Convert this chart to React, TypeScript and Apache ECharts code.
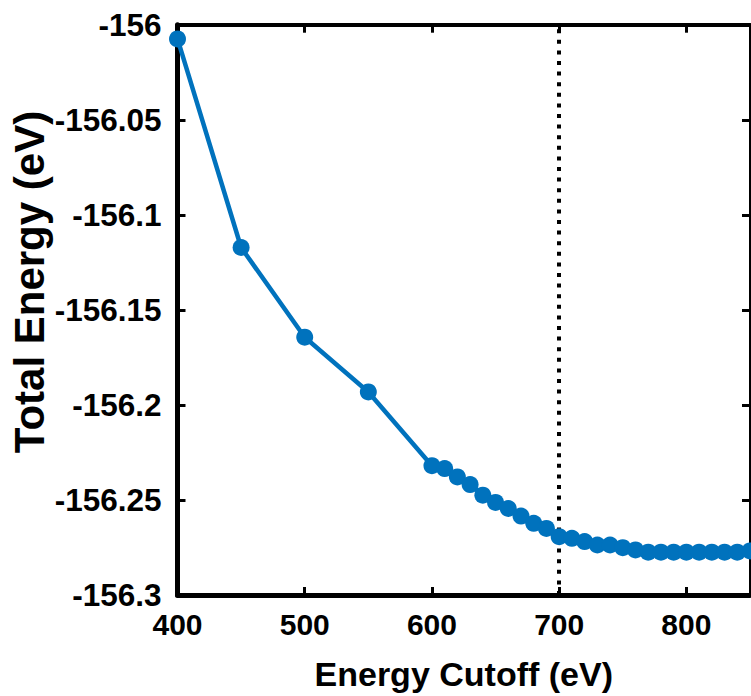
import React, { useEffect, useRef } from "react";
import * as echarts from "echarts";

const energyCutoff = [
  400, 450, 500, 550, 600, 610, 620, 630, 640, 650, 660, 670, 680, 690, 700,
  710, 720, 730, 740, 750, 760, 770, 780, 790, 800, 810, 820, 830, 840, 850,
];
const totalEnergy = [
  -156.0075, -156.1172, -156.1644, -156.1932, -156.232, -156.2335, -156.2379,
  -156.2419, -156.2475, -156.2513, -156.2545, -156.2585, -156.2623, -156.265,
  -156.2693, -156.2702, -156.2719, -156.2737, -156.2737, -156.2751, -156.2763,
  -156.2775, -156.2775, -156.2775, -156.2775, -156.2775, -156.2775, -156.2775,
  -156.2775, -156.2768,
];
const chosenCutoff = 700;
const xTitle = "Energy Cutoff (eV)";
const yTitle = "Total Energy (eV)";

const FONT = "'Liberation Sans', Arial, Helvetica, sans-serif";

export default function App() {
  const ref = useRef<HTMLDivElement>(null);
  useEffect(() => {
    document.body.style.margin = "0";
    const chart = echarts.init(ref.current!, undefined, { renderer: "svg" });
    const fmtY = (v: number) => String(Number(v.toFixed(2)));
    const axisCommon = {
      type: "value" as const,
      splitLine: { show: false },
      axisTick: { inside: true, length: 8, lineStyle: { color: "#000", width: 3 } },
    };
    chart.setOption({
      animation: false,
      backgroundColor: "#fff",
      grid: { left: 177.5, top: 24.7, right: 1, bottom: 98.5 },
      graphic: [
        {
          type: "text",
          x: 29,
          y: 282,
          rotation: Math.PI / 2,
          style: {
            text: yTitle,
            fontFamily: FONT,
            fontWeight: "bold",
            fontSize: 42,
            fill: "#000",
            align: "center",
            verticalAlign: "middle",
          },
        },
      ],
      xAxis: [
        {
          ...axisCommon,
          position: "bottom",
          min: 400,
          max: 850,
          interval: 100,
          name: xTitle,
          nameLocation: "middle",
          nameGap: 62,
          nameTextStyle: { fontFamily: FONT, fontWeight: "bold", fontSize: 34, color: "#000" },
          axisLine: { show: true, onZero: false, lineStyle: { color: "#000", width: 5 } },
          axisLabel: {
            showMaxLabel: false,
            margin: 14,
            fontFamily: FONT,
            fontWeight: "bold",
            fontSize: 30,
            color: "#000",
          },
        },
        {
          ...axisCommon,
          position: "top",
          min: 400,
          max: 850,
          interval: 100,
          axisLine: { show: true, onZero: false, lineStyle: { color: "#000", width: 4 } },
          axisLabel: { show: false },
        },
      ],
      yAxis: [
        {
          ...axisCommon,
          position: "left",
          min: -156.3,
          max: -156,
          interval: 0.05,
          axisLine: { show: true, onZero: false, lineStyle: { color: "#000", width: 5 } },
          axisLabel: {
            margin: 16,
            formatter: fmtY,
            fontFamily: FONT,
            fontWeight: "bold",
            fontSize: 31.5,
            color: "#000",
          },
        },
        {
          ...axisCommon,
          position: "right",
          min: -156.3,
          max: -156,
          interval: 0.05,
          axisLine: { show: true, onZero: false, lineStyle: { color: "#000", width: 3 } },
          axisLabel: { show: false },
        },
      ],
      series: [
        {
          type: "line",
          data: energyCutoff.map((x, i) => [x, totalEnergy[i]]),
          symbol: "circle",
          symbolSize: 17,
          itemStyle: { color: "#0072BD" },
          lineStyle: { color: "#0072BD", width: 4.5 },
          clip: false,
          z: 3,
          markLine: {
            silent: true,
            symbol: "none",
            label: { show: false },
            lineStyle: { color: "#000", width: 4, type: [4, 6.6] },
            data: [{ xAxis: chosenCutoff }],
            z: 2,
          },
        },
      ],
    });
    return () => chart.dispose();
  }, []);
  return <div ref={ref} style={{ position: "absolute", left: 0, top: 0, width: 751, height: 696 }} />;
}
